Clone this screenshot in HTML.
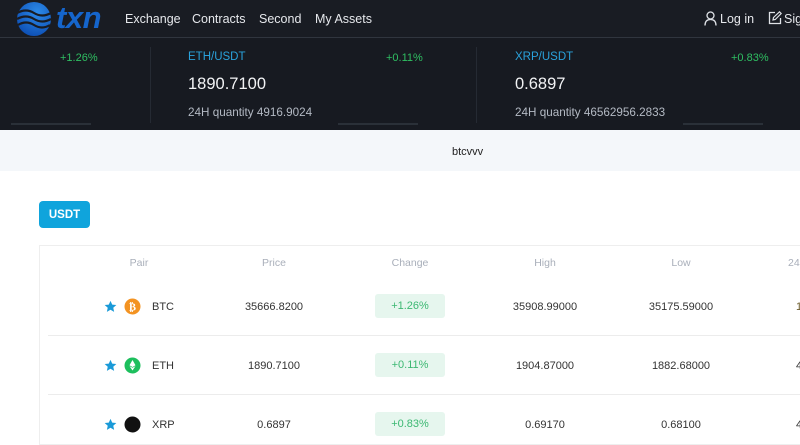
<!DOCTYPE html>
<html><head><meta charset="utf-8">
<style>
*{margin:0;padding:0;box-sizing:border-box}
html,body{width:800px;height:421px;overflow:hidden;background:#fff;font-family:"Liberation Sans",Arial,sans-serif}
.abs{position:absolute;white-space:nowrap}
#hdr{position:absolute;left:0;top:0;width:800px;height:38px;background:#191c23;border-bottom:1px solid #30353e}
#tick{position:absolute;left:0;top:38px;width:800px;height:92px;background:#171a21}
.nav{color:#e6e8ec;font-size:12.5px;top:12px}
.grn{color:#2fbf62;font-size:11px}
.pair{color:#2aa2dc;font-size:11.5px}
.big{color:#f2f3f5;font-size:16.5px}
.qty{color:#b4bac4;font-size:11.7px}
.sep{position:absolute;width:1px;background:#252a33;top:47px;height:76px}
.ul{position:absolute;height:2px;background:#2a3038;top:123px;width:80px}
#band{position:absolute;left:0;top:130px;width:800px;height:41px;background:#f4f7fa}
.th{color:#a9afba;font-size:10.5px;top:257px;transform:translateX(-50%)}
.td{color:#333;font-size:11px;transform:translateX(-50%)}
.badge{position:absolute;width:70px;height:24px;left:375px;background:#e6f6ee;border-radius:3px;color:#3cb872;font-size:11px;text-align:center;line-height:24px}
.rowline{position:absolute;left:48px;width:752px;height:1px;background:#ececec}
</style></head><body>
<div id="hdr"></div>
<svg class="abs" style="left:14px;top:1px" width="40" height="36" viewBox="0 0 40 36">
<defs><radialGradient id="g" cx="0.6" cy="0.3" r="0.8"><stop offset="0" stop-color="#2c8ae8"/><stop offset="1" stop-color="#0b4ab0"/></radialGradient></defs>
<circle cx="20" cy="18" r="17" fill="url(#g)"/>
<path d="M3 12 Q12 7 20 12 T37 12" stroke="#191c23" stroke-width="2.2" fill="none"/>
<path d="M3 18 Q12 13 20 18 T37 18" stroke="#191c23" stroke-width="2.2" fill="none"/>
<path d="M4 24 Q12 19 20 24 T36 24" stroke="#191c23" stroke-width="2.2" fill="none"/>
</svg>
<div class="abs" style="left:56px;top:0px;color:#1565cc;font-size:31px;font-weight:bold;font-style:italic;letter-spacing:-0.5px">txn</div>
<div class="abs nav" style="left:125px">Exchange</div>
<div class="abs nav" style="left:192px">Contracts</div>
<div class="abs nav" style="left:259px">Second</div>
<div class="abs nav" style="left:315px">My Assets</div>
<svg class="abs" style="left:704px;top:11px" width="13" height="15" viewBox="0 0 13 15"><circle cx="6.5" cy="4.5" r="3.5" stroke="#dfe2e7" stroke-width="1.3" fill="none"/><path d="M1 14.5 Q1 8.5 6.5 8.5 Q12 8.5 12 14.5" stroke="#dfe2e7" stroke-width="1.3" fill="none"/></svg>
<div class="abs nav" style="left:720px">Log in</div>
<svg class="abs" style="left:768px;top:11px" width="14" height="14" viewBox="0 0 14 14"><path d="M7 1.5H1.5V12.5H12.5V7" stroke="#dfe2e7" stroke-width="1.3" fill="none"/><path d="M5 9L5.5 6.5L11.5 0.8L13.2 2.5L7.3 8.5Z" stroke="#dfe2e7" stroke-width="1.2" fill="none"/></svg>
<div class="abs nav" style="left:784px">Sign up</div>

<div id="tick"></div>
<div class="abs grn" style="left:60px;top:52px">+1.26%</div>
<div class="sep" style="left:150px"></div>
<div class="sep" style="left:476px"></div>
<div class="abs pair" style="left:188px;top:51px">ETH/USDT</div>
<div class="abs grn" style="left:386px;top:52px">+0.11%</div>
<div class="abs big" style="left:188px;top:75px">1890.7100</div>
<div class="abs qty" style="left:188px;top:106px">24H quantity 4916.9024</div>
<div class="abs pair" style="left:515px;top:51px">XRP/USDT</div>
<div class="abs grn" style="left:731px;top:52px">+0.83%</div>
<div class="abs big" style="left:515px;top:75px">0.6897</div>
<div class="abs qty" style="left:515px;top:106px">24H quantity 46562956.2833</div>
<div class="ul" style="left:11px"></div>
<div class="ul" style="left:338px"></div>
<div class="ul" style="left:683px"></div>

<div id="band"></div>
<div class="abs" style="left:452px;top:146px;font-size:11px;color:#222">btcvvv</div>

<div class="abs" style="left:39px;top:201px;width:51px;height:27px;background:#0fa4dc;border-radius:4px;color:#fff;font-size:11.5px;font-weight:bold;text-align:center;line-height:28px">USDT</div>

<div class="abs" style="left:39px;top:245px;width:770px;height:200px;border:1px solid #eeeeee"></div>
<div class="abs th" style="left:139px">Pair</div>
<div class="abs th" style="left:274px">Price</div>
<div class="abs th" style="left:410px">Change</div>
<div class="abs th" style="left:545px">High</div>
<div class="abs th" style="left:681px">Low</div>
<div class="abs th" style="left:788px;transform:none">24H</div>

<svg class="abs" style="left:104px;top:300px" width="13" height="13" viewBox="0 0 24 24"><path d="M12 1.5l3.2 7 7.6.8-5.7 5.1 1.6 7.5L12 18l-6.7 3.9 1.6-7.5L1.2 9.3l7.6-.8z" fill="#1a9ad8"/></svg>
<svg class="abs" style="left:124px;top:298px" width="17" height="17" viewBox="0 0 17 17"><circle cx="8.5" cy="8.5" r="8" fill="#f39322"/><text x="8.5" y="12.3" font-size="10.5" font-weight="bold" fill="#fff" text-anchor="middle" font-family="DejaVu Sans">₿</text></svg>
<div class="abs" style="left:152px;top:301px;font-size:11px;color:#333">BTC</div>
<div class="abs td" style="left:274px;top:301px">35666.8200</div>
<div class="badge" style="top:294px">+1.26%</div>
<div class="abs td" style="left:545px;top:301px">35908.99000</div>
<div class="abs td" style="left:681px;top:301px">35175.59000</div>
<div class="abs" style="left:796px;top:301px;font-size:11px;color:#6b5a2a">1</div>
<div class="rowline" style="top:335px"></div>

<svg class="abs" style="left:104px;top:359px" width="13" height="13" viewBox="0 0 24 24"><path d="M12 1.5l3.2 7 7.6.8-5.7 5.1 1.6 7.5L12 18l-6.7 3.9 1.6-7.5L1.2 9.3l7.6-.8z" fill="#1a9ad8"/></svg>
<svg class="abs" style="left:124px;top:357px" width="17" height="17" viewBox="0 0 17 17"><circle cx="8.5" cy="8.5" r="8" fill="#1dbf5d"/><path d="M8.5 3L11.5 8.3 8.5 10 5.5 8.3Z" fill="#fff"/><path d="M8.5 10.8L11.5 9.1 8.5 13.5 5.5 9.1Z" fill="#fff"/></svg>
<div class="abs" style="left:152px;top:360px;font-size:11px;color:#333">ETH</div>
<div class="abs td" style="left:274px;top:360px">1890.7100</div>
<div class="badge" style="top:353px">+0.11%</div>
<div class="abs td" style="left:545px;top:360px">1904.87000</div>
<div class="abs td" style="left:681px;top:360px">1882.68000</div>
<div class="abs" style="left:796px;top:360px;font-size:11px;color:#333">4</div>
<div class="rowline" style="top:394px"></div>

<svg class="abs" style="left:104px;top:418px" width="13" height="13" viewBox="0 0 24 24"><path d="M12 1.5l3.2 7 7.6.8-5.7 5.1 1.6 7.5L12 18l-6.7 3.9 1.6-7.5L1.2 9.3l7.6-.8z" fill="#1a9ad8"/></svg>
<svg class="abs" style="left:124px;top:416px" width="17" height="17" viewBox="0 0 17 17"><circle cx="8.5" cy="8.5" r="8" fill="#111"/></svg>
<div class="abs" style="left:152px;top:419px;font-size:11px;color:#333">XRP</div>
<div class="abs td" style="left:274px;top:419px">0.6897</div>
<div class="badge" style="top:412px">+0.83%</div>
<div class="abs td" style="left:545px;top:419px">0.69170</div>
<div class="abs td" style="left:681px;top:419px">0.68100</div>
<div class="abs" style="left:796px;top:419px;font-size:11px;color:#333">4</div>
</body></html>
